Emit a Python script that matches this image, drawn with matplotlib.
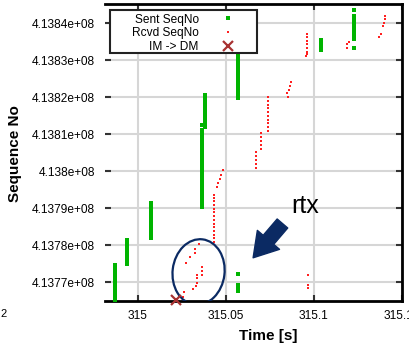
import matplotlib
matplotlib.use("Agg")
import matplotlib.pyplot as plt
from matplotlib.patches import Ellipse, FancyArrowPatch, Rectangle

plt.rcParams['font.family'] = ['Liberation Sans', 'DejaVu Sans']

# sent sequence numbers (time [s], seq no)
sent_t = ([314.9870] * 15 + [314.9938] * 10 + [315.0077] * 14 + [315.0366] * 28
          + [315.0384] * 12 + [315.0571] * 19 + [315.0571] * 4
          + [315.1038] * 5 + [315.1226] * 12)
sent_seq = [
    413765200, 413765900, 413766600, 413767300, 413768000, 413768700, 413769400,
    413770100, 413770800, 413771500, 413772200, 413772900, 413773600, 413774300,
    413774600,
    413774900, 413775600, 413776300, 413777000, 413777700, 413778400, 413779100,
    413779800, 413780500, 413781300,
    413781900, 413782600, 413783300, 413784000, 413784700, 413785400, 413786100,
    413786800, 413787500, 413788200, 413788900, 413789600, 413790300, 413791300,
    413790300, 413791100, 413791900, 413792700, 413793500, 413794300, 413795100,
    413795900, 413796700, 413797500, 413798300, 413799100, 413799900, 413800700,
    413801500, 413802300, 413803100, 413803900, 413804700, 413805500, 413806300,
    413807100, 413807900, 413808700, 413809500, 413810300, 413811100, 413812400,
    413811900, 413812700, 413813500, 413814300, 413815100, 413815900, 413816700,
    413817500, 413818300, 413819100, 413819900, 413820500,
    413819700, 413820500, 413821300, 413822100, 413822900, 413823700, 413824500,
    413825300, 413826100, 413826900, 413827700, 413828500, 413829300, 413830100,
    413830900, 413831700, 413832500, 413833300, 413834000,
    413772160, 413769190, 413768380, 413767570,
    413832700, 413833400, 413834100, 413834800, 413835400,
    413835700, 413836400, 413837100, 413837800, 413838500, 413839200, 413839900,
    413840600, 413841300, 413842000, 413843500, 413833240,
]

# received sequence numbers (time [s], seq no)
rcvd_t = [
    315.0346, 315.0326, 315.0322, 315.0294, 315.0274, 315.0366, 315.0366,
    315.0366, 315.0335, 315.0335, 315.0335, 315.0332, 315.0316, 315.0260,
    315.0256,
    315.0435, 315.0435, 315.0435, 315.0435, 315.0435, 315.0435, 315.0435,
    315.0435, 315.0435, 315.0435, 315.0435, 315.0435, 315.0435, 315.0435,
    315.0448, 315.0454, 315.0467, 315.0473, 315.0482,
    315.0671, 315.0671, 315.0671, 315.0671, 315.0671,
    315.0699, 315.0699, 315.0699, 315.0699, 315.0699,
    315.0742, 315.0742, 315.0742, 315.0742, 315.0742, 315.0742, 315.0742,
    315.0742, 315.0742, 315.0742,
    315.0853, 315.0849, 315.0859, 315.0863, 315.0872,
    315.0962, 315.0962, 315.0962, 315.0962, 315.0962, 315.0962, 315.0962,
    315.0956,
    315.1198, 315.1188, 315.1188,
    315.1405, 315.1405, 315.1401, 315.1395, 315.1380, 315.1371,
    315.0968, 315.0968, 315.0968,
]
rcvd_seq = [
    413780270, 413778920, 413777970, 413776840, 413775140, 413774140, 413772970,
    413771890, 413771760, 413771080, 413769810, 413769050, 413768030, 413767300,
    413766030,
    413780800, 413781800, 413782800, 413783800, 413784800, 413785800, 413786800,
    413787800, 413788800, 413789800, 413790800, 413791800, 413792800, 413793500,
    413795760, 413796760, 413797840, 413798920, 413800270,
    413800800, 413801900, 413803000, 413804100, 413805100,
    413806000, 413807100, 413808200, 413809300, 413810300,
    413810900, 413811900, 413812900, 413813900, 413814900, 413815900, 413816900,
    413817900, 413818900, 413820000,
    413820080, 413821000, 413821890, 413822970, 413823970,
    413832200, 413833200, 413834200, 413835200, 413836100, 413837100, 413831600,
    413831220,
    413834950, 413834240, 413833160,
    413841970, 413841080, 413840080, 413839190, 413836950, 413836140,
    413771890, 413769190, 413768380,
]

# handover event
im_dm_t = [315.0215]
im_dm_seq = [413765135]

x_ticks = [315, 315.05, 315.1, 315.15]
x_tick_labels = ["315", "315.05", "315.1", "315.15"]
y_ticks = [413770000, 413780000, 413790000, 413800000,
           413810000, 413820000, 413830000, 413840000]
y_tick_labels = ["4.1377e+08", "4.1378e+08", "4.1379e+08", "4.138e+08",
                 "4.1381e+08", "4.1382e+08", "4.1383e+08", "4.1384e+08"]

navy = "#0b2a63"

fig = plt.figure(figsize=(4.10, 3.47), dpi=100)
ax = fig.add_axes([0.256, 0.134, 0.724, 0.854])

ax.plot(sent_t, sent_seq, linestyle="none", marker="s", markersize=3.2,
        markeredgewidth=0, color="#00b400", label="Sent SeqNo", zorder=3)
ax.plot(rcvd_t, rcvd_seq, linestyle="none", marker="s", markersize=2.1,
        markeredgewidth=0, color="#ff2020", label="Rcvd SeqNo", zorder=3)
ax.plot(im_dm_t, im_dm_seq, linestyle="none", marker="x", markersize=7,
        markeredgewidth=1.6, color="#a83232", label="IM -> DM", zorder=5,
        clip_on=False)

ax.set_xlim(314.9813, 315.15)
ax.set_ylim(413765000, 413845100)
ax.set_xticks(x_ticks)
ax.set_xticklabels(x_tick_labels)
ax.set_yticks(y_ticks)
ax.set_yticklabels(y_tick_labels)
ax.tick_params(direction="in", length=4, width=1.5, color="#333333",
               labelsize=8.6, pad=7, top=True, right=True)
ax.grid(True, color="#d6d6d6", linewidth=1.5)
ax.set_axisbelow(True)

for side in ["top", "bottom", "right"]:
    ax.spines[side].set_linewidth(2)
    ax.spines[side].set_color("black")
ax.spines["left"].set_visible(False)

ax.set_xlabel("Time [s]", fontsize=11, fontweight="bold")
ax.xaxis.set_label_coords(0.549, -0.096)
ax.set_ylabel("Sequence No", fontsize=11, fontweight="bold")
ax.yaxis.set_label_coords(-0.279, 0.496)

# legend box, gnuplot style: labels right aligned, sample on the right
ax.add_patch(Rectangle((0.0168, 0.835), 0.495, 0.145, transform=ax.transAxes,
                       facecolor="white", edgecolor="#222222", linewidth=1.5,
                       zorder=6))
leg = ax.legend(loc="upper right", bbox_to_anchor=(0.4545, 0.968),
                markerfirst=False, fontsize=8.6, frameon=False,
                borderpad=0, labelspacing=0.14, handletextpad=1.45,
                handlelength=2.0, borderaxespad=0)
leg.set_zorder(7)
for txt in leg.get_texts():
    txt.set_ha("right")
leg._legend_box.align = "right"

# retransmission annotation
center = ax.transLimits.transform((315.0345, 413772700))
ax.add_patch(Ellipse(center, 0.175, 0.222, angle=-7, transform=ax.transAxes,
                     fill=False, edgecolor=navy, linewidth=1.6, zorder=4))
ax.add_patch(FancyArrowPatch((0.604, 0.267), (0.493, 0.137),
                             transform=ax.transAxes,
                             arrowstyle="simple,head_length=0.85,head_width=1.05,tail_width=0.5",
                             mutation_scale=20, color=navy, zorder=4))
ax.text(0.674, 0.296, "rtx", transform=ax.transAxes, fontsize=18,
        ha="center", va="baseline", color="black")

fig.text(0.002, 0.095, "2", fontsize=8, ha="left", va="center")

fig.savefig("out.png", dpi=100)
